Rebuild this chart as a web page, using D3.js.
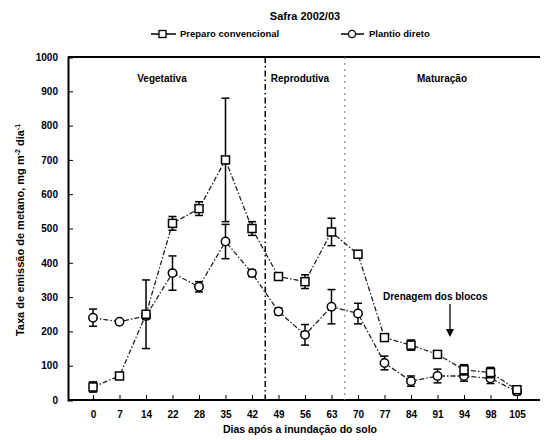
<!DOCTYPE html>
<html>
<head>
<meta charset="utf-8">
<script src="https://cdn.jsdelivr.net/npm/d3@7"></script>
<style>
  body { margin: 0; background: #fff; }
  svg { font-family: "Liberation Sans", Arial, sans-serif; }
</style>
</head>
<body>
<svg id="chart" width="545" height="440"></svg>
<script>
// days after flooding (x categories)
const dias = ["0", "7", "14", "22", "28", "35", "42", "49", "56", "63", "70", "77", "84", "91", "94", "98", "105"];
// methane emission, mg m-2 dia-1
const preparo = [38, 70, 250, 515, 558, 700, 500, 360, 345, 490, 425, 182, 160, 133, 88, 80, 30];
const preparoErr = [15, 5, 100, 20, 20, 180, 20, 10, 20, 40, 10, 10, 15, 10, 15, 15, 10];
const plantio = [240, 228, 245, 370, 330, 462, 370, 258, 190, 272, 252, 108, 55, 70, 70, 63, 25];
const plantioErr = [25, 5, 10, 50, 15, 50, 10, 10, 30, 50, 30, 20, 15, 20, 15, 15, 10];
const yTicks = [0, 100, 200, 300, 400, 500, 600, 700, 800, 900, 1000];

const svg = d3.select("#chart");

const x = d3.scalePoint().domain(dias).range([93, 517]);
const y = d3.scaleLinear().domain([0, 1000]).range([400, 57]);

const left = 68, right = 540;

// frame: top line, y axis, x axis
svg.append("line").attr("x1", left).attr("x2", right).attr("y1", y(1000)).attr("y2", y(1000))
  .attr("stroke", "#000").attr("stroke-width", 2);

const yAxis = svg.append("g").attr("transform", `translate(${left},0)`)
  .call(d3.axisLeft(y).tickValues(yTicks).tickFormat(d3.format("d")).tickSize(-5).tickPadding(10));
yAxis.select(".domain").attr("stroke-width", 2);
yAxis.selectAll("text").attr("font-size", 10).attr("font-weight", "bold");

const xAxis = svg.append("g").attr("transform", `translate(0,${y(0)})`)
  .call(d3.axisBottom(x).tickSize(-5).tickPadding(11));
xAxis.select(".domain").attr("d", `M${left},0H${right}`).attr("stroke-width", 2);
xAxis.selectAll("text").attr("font-size", 10).attr("font-weight", "bold");

// phase separators
const mid = (a, b) => (x(a) + x(b)) / 2;
svg.append("line").attr("x1", mid("42", "49")).attr("x2", mid("42", "49"))
  .attr("y1", y(1000)).attr("y2", y(0))
  .attr("stroke", "#000").attr("stroke-width", 1.5).attr("stroke-dasharray", "6,3,1.5,3");
svg.append("line").attr("x1", mid("63", "70")).attr("x2", mid("63", "70"))
  .attr("y1", y(1000)).attr("y2", y(0))
  .attr("stroke", "#777").attr("stroke-width", 1).attr("stroke-dasharray", "2,4");

// phase labels
const phase = [["Vegetativa", 162], ["Reprodutiva", 300], ["Maturação", 442]];
svg.selectAll(".phase").data(phase).join("text")
  .attr("x", d => d[1]).attr("y", 82).attr("text-anchor", "middle")
  .attr("font-size", 10).attr("font-weight", "bold").text(d => d[0]);

function drawSeries(vals, errs, shape) {
  const g = svg.append("g");
  const line = d3.line().x((d, i) => x(dias[i])).y(d => y(d));
  g.append("path").attr("d", line(vals)).attr("fill", "none")
    .attr("stroke", "#222").attr("stroke-width", 1.3).attr("stroke-dasharray", "5,2,1.5,2");
  const eb = g.selectAll(".eb").data(vals).join("g");
  eb.append("line").attr("x1", (d, i) => x(dias[i])).attr("x2", (d, i) => x(dias[i]))
    .attr("y1", (d, i) => y(d + errs[i])).attr("y2", (d, i) => y(d - errs[i]))
    .attr("stroke", "#000").attr("stroke-width", 1.5);
  [1, -1].forEach(s => {
    eb.append("line").attr("x1", (d, i) => x(dias[i]) - 4).attr("x2", (d, i) => x(dias[i]) + 4)
      .attr("y1", (d, i) => y(d + s * errs[i])).attr("y2", (d, i) => y(d + s * errs[i]))
      .attr("stroke", "#000").attr("stroke-width", 1.5);
  });
  if (shape === "square") {
    g.selectAll(".m").data(vals).join("rect")
      .attr("x", (d, i) => x(dias[i]) - 4).attr("y", d => y(d) - 4)
      .attr("width", 8).attr("height", 8)
      .attr("fill", "#fff").attr("stroke", "#000").attr("stroke-width", 1.5);
  } else {
    g.selectAll(".m").data(vals).join("circle")
      .attr("cx", (d, i) => x(dias[i])).attr("cy", d => y(d)).attr("r", 4.2)
      .attr("fill", "#fff").attr("stroke", "#000").attr("stroke-width", 1.5);
  }
}
drawSeries(plantio, plantioErr, "circle");
drawSeries(preparo, preparoErr, "square");

// title
svg.append("text").attr("x", 305).attr("y", 20).attr("text-anchor", "middle")
  .attr("font-size", 11).attr("font-weight", "bold").text("Safra 2002/03");

// legend
const leg = svg.append("g").attr("font-size", 9.5).attr("font-weight", "bold");
leg.append("line").attr("x1", 151).attr("x2", 176).attr("y1", 34).attr("y2", 34).attr("stroke", "#000").attr("stroke-width", 1.5);
leg.append("rect").attr("x", 159).attr("y", 30.5).attr("width", 7).attr("height", 7)
  .attr("fill", "#fff").attr("stroke", "#000").attr("stroke-width", 1.3);
leg.append("text").attr("x", 180).attr("y", 37).text("Preparo convencional");
leg.append("line").attr("x1", 341).attr("x2", 364).attr("y1", 34).attr("y2", 34).attr("stroke", "#000").attr("stroke-width", 1.5);
leg.append("circle").attr("cx", 352).attr("cy", 34).attr("r", 3.6)
  .attr("fill", "#fff").attr("stroke", "#000").attr("stroke-width", 1.3);
leg.append("text").attr("x", 369).attr("y", 37).text("Plantio direto");

// annotation
svg.append("text").attr("x", 383).attr("y", 300).attr("font-size", 10).attr("font-weight", "bold")
  .text("Drenagem dos blocos");
svg.append("line").attr("x1", 450).attr("x2", 450).attr("y1", 304).attr("y2", 330)
  .attr("stroke", "#000").attr("stroke-width", 1.3);
svg.append("path").attr("d", "M446,329L454,329L450,337Z").attr("fill", "#000");

// axis titles
svg.append("text").attr("x", 300).attr("y", 433).attr("text-anchor", "middle")
  .attr("font-size", 10.5).attr("font-weight", "bold").text("Dias após a inundação do solo");
const yt = svg.append("text").attr("transform", "translate(24,230) rotate(-90)")
  .attr("text-anchor", "middle").attr("font-size", 11).attr("font-weight", "bold");
yt.append("tspan").text("Taxa de emissão de metano, mg m");
yt.append("tspan").attr("dy", -4).attr("font-size", 7).text("-2");
yt.append("tspan").attr("dy", 4).text(" dia");
yt.append("tspan").attr("dy", -4).attr("font-size", 7).text("-1");
</script>
</body>
</html>
